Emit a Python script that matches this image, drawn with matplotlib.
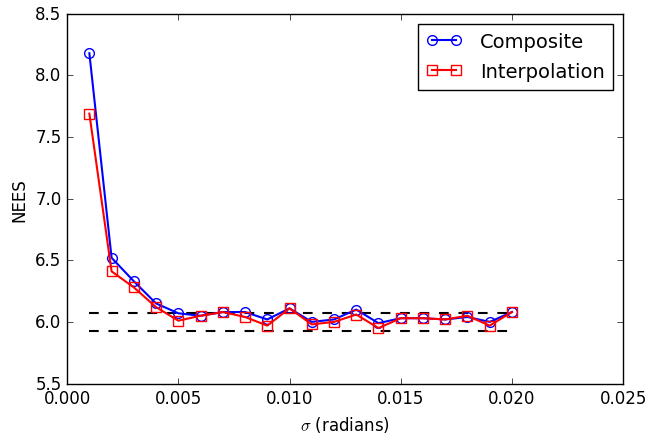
import matplotlib

matplotlib.use("Agg")
import matplotlib.pyplot as plt

plt.style.use("classic")

SIGMA = [0.001, 0.002, 0.003, 0.004, 0.005, 0.006, 0.007, 0.008, 0.009, 0.010,
         0.011, 0.012, 0.013, 0.014, 0.015, 0.016, 0.017, 0.018, 0.019, 0.020]
COMPOSITE = [8.18, 6.52, 6.33, 6.15, 6.07, 6.05, 6.08, 6.08, 6.02, 6.11,
             6.00, 6.02, 6.10, 5.99, 6.03, 6.03, 6.02, 6.04, 6.00, 6.08]
INTERPOLATION = [7.69, 6.41, 6.28, 6.12, 6.01, 6.05, 6.08, 6.04, 5.97, 6.11,
                 5.98, 6.00, 6.06, 5.95, 6.03, 6.03, 6.02, 6.05, 5.97, 6.08]
BOUNDS = [5.93, 6.07]
BOUND_SPAN = [0.001, 0.020]


def main():
    fig = plt.figure(figsize=(6.58, 4.35), dpi=100, facecolor="white")
    ax = fig.add_axes([0.102, 0.116, 0.845, 0.85])

    for b in BOUNDS:
        ax.plot(BOUND_SPAN, [b, b], color="k", lw=1.5, ls="--", dashes=(7, 7))

    ax.plot(SIGMA, COMPOSITE, "-o", color="b", lw=1.5, mfc="none", mec="b",
            ms=7, mew=1.0, label="Composite")
    ax.plot(SIGMA, INTERPOLATION, "-s", color="r", lw=1.5, mfc="none", mec="r",
            ms=7, mew=1.0, label="Interpolation")

    ax.set_xlim(0.0, 0.025)
    ax.set_ylim(5.5, 8.5)
    ax.set_xticks([0.0, 0.005, 0.010, 0.015, 0.020, 0.025])
    ax.set_xticklabels(["0.000", "0.005", "0.010", "0.015", "0.020", "0.025"])
    ax.set_yticks([5.5, 6.0, 6.5, 7.0, 7.5, 8.0, 8.5])
    ax.tick_params(labelsize=12, direction="in", length=4)
    ax.set_xlabel(r"$\sigma$ (radians)", fontsize=12)
    ax.set_ylabel("NEES", fontsize=12)

    leg = ax.legend(loc="upper right", fontsize=14, numpoints=2,
                    fancybox=False, borderaxespad=0.5, handlelength=1.8,
                    handletextpad=0.95, borderpad=0.45, labelspacing=0.55)
    leg.get_frame().set_edgecolor("k")

    fig.savefig("out.png", dpi=100, facecolor="white")


if __name__ == "__main__":
    main()
